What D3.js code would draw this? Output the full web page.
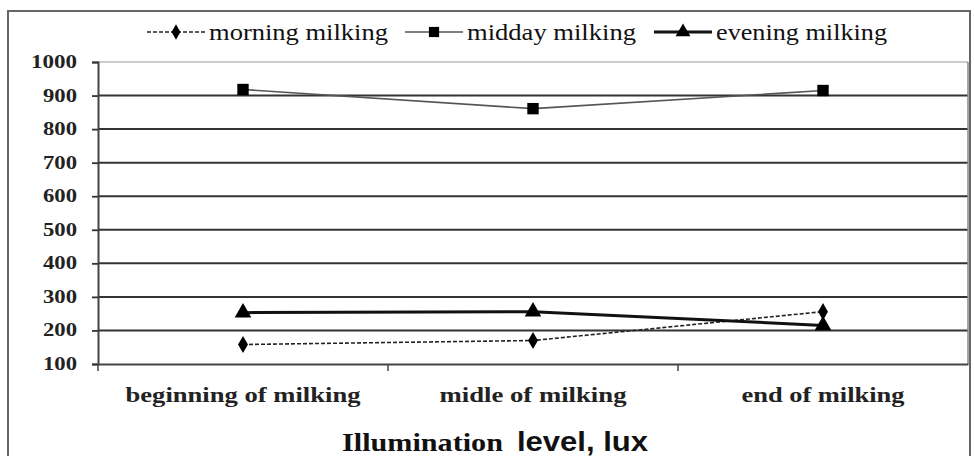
<!DOCTYPE html>
<html>
<head>
<meta charset="utf-8">
<script src="https://cdn.jsdelivr.net/npm/d3@7"></script>
<style>
  body { margin: 0; background: #fff; }
  svg { display: block; }
</style>
</head>
<body>
<div id="chart"></div>
<script>
// data
const categories = ["beginning of milking", "midle of milking", "end of milking"];
const morning = [158, 170, 256];
const midday = [918, 861, 915];
const evening = [253, 256, 215];
const yTicks = [100, 200, 300, 400, 500, 600, 700, 800, 900, 1000];
const seriesNames = ["morning milking", "midday milking", "evening milking"];

const width = 974;
const height = 456;
const margin = { top: 62, right: 6, bottom: 92, left: 98 };
const serif = "'Liberation Serif', 'Times New Roman', serif";

const svg = d3
  .select("#chart")
  .append("svg")
  .attr("width", width)
  .attr("height", height);

// the reference text is stretched sideways, so fix each label's width
function fitText(g, px, py, str, len, anchor) {
  return g
    .append("text")
    .attr("x", px)
    .attr("y", py)
    .attr("text-anchor", anchor)
    .attr("textLength", len)
    .attr("lengthAdjust", "spacingAndGlyphs")
    .text(str);
}

// outer frame
svg
  .append("rect")
  .attr("x", 8)
  .attr("y", 11)
  .attr("width", 962)
  .attr("height", 460)
  .attr("fill", "none")
  .attr("stroke", "#666")
  .attr("stroke-width", 2);

const x = d3
  .scaleBand()
  .domain(categories)
  .range([margin.left, width - margin.right])
  .paddingInner(0)
  .paddingOuter(0);

const y = d3
  .scaleLinear()
  .domain([100, 1000])
  .range([height - margin.bottom, margin.top]);

// gridlines
svg
  .append("g")
  .selectAll("line")
  .data(yTicks.filter((d) => d > 100))
  .enter()
  .append("line")
  .attr("x1", margin.left)
  .attr("x2", width - margin.right)
  .attr("y1", (d) => y(d))
  .attr("y2", (d) => y(d))
  .attr("stroke", (d) => (d === 1000 ? "#999" : "#333"))
  .attr("stroke-width", (d) => (d === 1000 ? 1.2 : 2));

// right border of plot area
svg
  .append("line")
  .attr("x1", width - margin.right)
  .attr("x2", width - margin.right)
  .attr("y1", y(1000))
  .attr("y2", y(100))
  .attr("stroke", "#888")
  .attr("stroke-width", 1.5);

// y axis (labels drawn separately)
const yAxis = svg
  .append("g")
  .attr("transform", `translate(${margin.left},0)`)
  .call(d3.axisLeft(y).tickValues(yTicks).tickSize(6).tickFormat(""));
yAxis.select(".domain").attr("stroke", "#444").attr("stroke-width", 2);
yAxis.selectAll(".tick line").attr("stroke", "#333").attr("stroke-width", 1.8);

const yLabels = svg
  .append("g")
  .attr("font-family", serif)
  .attr("font-weight", "bold")
  .attr("font-size", 19)
  .attr("fill", "#222");
yTicks.forEach((t) => {
  fitText(yLabels, 77, y(t) + 6, String(t), String(t).length === 4 ? 46 : 34, "end");
});

// x axis
const xAxis = svg
  .append("g")
  .attr("transform", `translate(0,${y(100)})`)
  .call(d3.axisBottom(x).tickSize(0).tickFormat(""));
xAxis.select(".domain").attr("stroke", "#444").attr("stroke-width", 2);

// band boundary ticks under the axis
svg
  .append("g")
  .selectAll("line")
  .data(categories)
  .enter()
  .append("line")
  .attr("x1", (d) => x(d))
  .attr("x2", (d) => x(d))
  .attr("y1", y(100))
  .attr("y2", y(100) + 7)
  .attr("stroke", "#444")
  .attr("stroke-width", 1.5);

const catWidths = [235, 187, 163];
const xLabels = svg
  .append("g")
  .attr("font-family", serif)
  .attr("font-weight", "bold")
  .attr("font-size", 22)
  .attr("fill", "#222");
categories.forEach((c, i) => {
  fitText(xLabels, x(c) + x.bandwidth() / 2, 402, c, catWidths[i], "middle");
});

const cx = (d, i) => x(categories[i]) + x.bandwidth() / 2;

const series = [
  { name: seriesNames[0], values: morning, dash: "4,2", width: 1.6, color: "#222", symbol: d3.symbolDiamond, size: 85 },
  { name: seriesNames[1], values: midday, dash: null, width: 1.6, color: "#555", symbol: d3.symbolSquare, size: 130 },
  { name: seriesNames[2], values: evening, dash: null, width: 3, color: "#111", symbol: d3.symbolTriangle, size: 120 },
];

const line = d3
  .line()
  .x(cx)
  .y((d) => y(d));

series.forEach((s) => {
  svg
    .append("path")
    .datum(s.values)
    .attr("d", line)
    .attr("fill", "none")
    .attr("stroke", s.color)
    .attr("stroke-width", s.width)
    .attr("stroke-dasharray", s.dash);

  svg
    .append("g")
    .selectAll("path")
    .data(s.values)
    .enter()
    .append("path")
    .attr("d", d3.symbol().type(s.symbol).size(s.size))
    .attr("transform", (d, i) => `translate(${cx(d, i)},${y(d)})`)
    .attr("fill", "#000");
});

// legend
const legendX = [147, 405, 654];
const legendTextLen = [179, 169, 171];
const legend = svg
  .append("g")
  .selectAll("g")
  .data(series)
  .enter()
  .append("g")
  .attr("transform", (d, i) => `translate(${legendX[i]},32)`);

legend
  .append("line")
  .attr("x1", 0)
  .attr("x2", 58)
  .attr("stroke", (d) => d.color)
  .attr("stroke-width", (d) => d.width)
  .attr("stroke-dasharray", (d) => d.dash);

legend
  .append("path")
  .attr("d", (d) => d3.symbol().type(d.symbol).size(d.size * 0.8)())
  .attr("transform", "translate(29,0)")
  .attr("fill", "#000");

legend.each(function (d, i) {
  fitText(d3.select(this), 62, 8, d.name, legendTextLen[i], "start")
    .attr("font-family", serif)
    .attr("font-size", 23)
    .attr("fill", "#111");
});

// x axis title
const title = svg.append("g").attr("fill", "#111");
fitText(title, 342, 451, "Illumination", 161, "start")
  .attr("font-family", serif)
  .attr("font-weight", "bold")
  .attr("font-size", 26);
fitText(title, 517, 451, "level, lux", 131, "start")
  .attr("font-family", "'Liberation Sans Narrow', 'Arial Narrow', sans-serif")
  .attr("font-weight", "bold")
  .attr("font-size", 28);
</script>
</body>
</html>
